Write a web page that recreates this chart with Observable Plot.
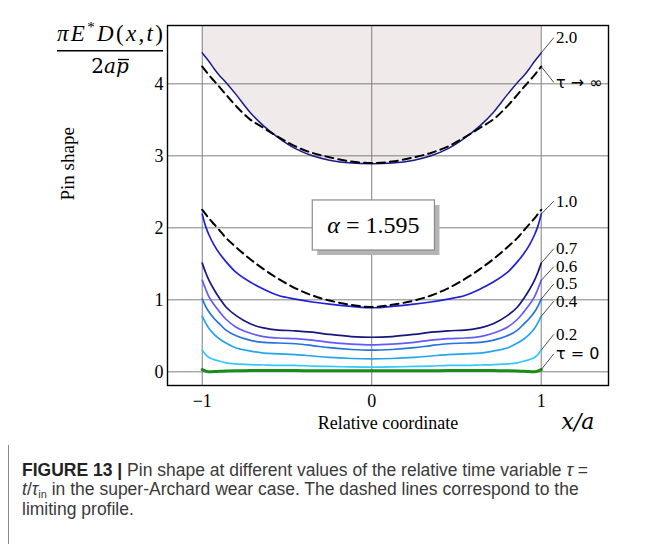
<!DOCTYPE html>
<html><head><meta charset="utf-8">
<script src="https://cdn.jsdelivr.net/npm/d3@7"></script>
<script src="https://cdn.jsdelivr.net/npm/@observablehq/plot@0.6"></script>
<style>
html,body{margin:0;padding:0;background:#fff;}
body{width:651px;height:544px;overflow:hidden;position:relative;}
#border{position:absolute;left:8px;top:8px;right:0;bottom:0;border-left:1px solid #8a8a8a;border-top:1px solid #8a8a8a;}
#chart{position:absolute;left:0;top:0;}
#caption{position:absolute;left:22px;top:461px;font-family:"Liberation Sans",Arial,sans-serif;font-size:17.5px;line-height:18.5px;color:#3a3a3a;white-space:nowrap;}
#caption b{color:#222;}
#caption .sub{font-size:11px;position:relative;top:3px;}
</style></head><body>
<div id="border"></div>
<div id="chart"></div>
<div id="caption"><b>FIGURE 13 |</b> Pin shape at different values of the relative time variable <i>τ</i> =<br><i>t</i>/<i>τ</i><span class="sub">in</span> in the super-Archard wear case. The dashed lines correspond to the<br>limiting profile.</div>
<script>
// ---- data ----
const xs = [-1,-0.98,-0.96,-0.93,-0.9,-0.86,-0.8,-0.72,-0.64,-0.55,-0.45,-0.35,-0.25,-0.12,0,0.12,0.25,0.35,0.45,0.55,0.64,0.72,0.8,0.86,0.9,0.93,0.96,0.98,1];
const tau20 = [4.43,4.37,4.31,4.21,4.12,4.02,3.85,3.61,3.42,3.25,3.10,3.00,2.94,2.90,2.89,2.90,2.94,3.00,3.10,3.25,3.42,3.61,3.85,4.02,4.12,4.21,4.31,4.37,4.43];
const limitUpper = [4.24,4.18,4.12,4.04,3.96,3.85,3.69,3.51,3.39,3.26,3.13,3.04,2.98,2.92,2.90,2.92,2.98,3.04,3.13,3.26,3.39,3.51,3.69,3.85,3.96,4.04,4.12,4.18,4.24];
const limitLower = [2.25,2.19,2.13,2.05,1.97,1.86,1.73,1.57,1.43,1.29,1.16,1.06,0.99,0.93,0.90,0.93,0.99,1.06,1.16,1.29,1.43,1.57,1.73,1.86,1.97,2.05,2.13,2.19,2.25];
const tau10 = [2.19,2.02,1.90,1.76,1.65,1.53,1.38,1.25,1.15,1.06,1.01,0.97,0.94,0.91,0.89,0.91,0.94,0.97,1.01,1.06,1.15,1.25,1.38,1.53,1.65,1.76,1.90,2.02,2.19];
const tau07 = [1.51,1.38,1.27,1.14,1.03,0.90,0.78,0.67,0.61,0.58,0.57,0.55,0.52,0.49,0.48,0.49,0.52,0.55,0.57,0.58,0.61,0.67,0.78,0.90,1.03,1.14,1.27,1.38,1.51];
const tau06 = [1.27,1.15,1.04,0.93,0.84,0.73,0.62,0.54,0.49,0.47,0.46,0.44,0.41,0.385,0.375,0.385,0.41,0.44,0.46,0.47,0.49,0.54,0.62,0.73,0.84,0.93,1.04,1.15,1.27];
const tau05 = [1.01,0.91,0.83,0.74,0.67,0.58,0.50,0.44,0.41,0.40,0.39,0.365,0.335,0.31,0.30,0.31,0.335,0.365,0.39,0.40,0.41,0.44,0.50,0.58,0.67,0.74,0.83,0.91,1.01];
const tau04 = [0.77,0.68,0.60,0.52,0.46,0.40,0.33,0.29,0.26,0.25,0.24,0.22,0.20,0.185,0.18,0.185,0.20,0.22,0.24,0.25,0.26,0.29,0.33,0.40,0.46,0.52,0.60,0.68,0.77];
const tau02 = [0.30,0.24,0.20,0.17,0.15,0.125,0.11,0.10,0.095,0.09,0.09,0.08,0.075,0.068,0.065,0.068,0.075,0.08,0.09,0.09,0.095,0.10,0.11,0.125,0.15,0.17,0.20,0.24,0.30];
const tau00 = [0.03,0.01,0.0,0.003,0.008,0.012,0.015,0.017,0.018,0.018,0.017,0.016,0.015,0.015,0.015,0.015,0.015,0.016,0.017,0.018,0.018,0.017,0.015,0.012,0.008,0.003,0.0,0.01,0.03];

const xTicks = [-1, 0, 1];
const xTickLabels = ["−1", "0", "1"];
const yTicks = [0, 1, 2, 3, 4];
const yTickLabels = ["0", "1", "2", "3", "4"];

const labelNames = ["2.0", "τ → ∞", "1.0", "0.7", "0.6", "0.5", "0.4", "0.2", "τ = 0"];
const labelFrom  = [4.43, 4.24, 2.19, 1.51, 1.27, 1.01, 0.77, 0.30, 0.03];
const labelTo    = [4.64, 4.02, 2.37, 1.71, 1.46, 1.22, 0.98, 0.52, 0.25];

const alphaText = "1.595";
const alphaBox = {x1: -0.348, x2: 0.373, y1: 1.685, y2: 2.38};

// ---- layout / styling ----
const X_DOMAIN = [-1.205, 1.397];
const Y_DOMAIN = [-0.19, 4.81];
const serif = "'Liberation Serif','Times New Roman',serif";
const mathSerif = "'DejaVu Serif',serif";

const solid = [
  {ys: tau10, stroke: "#2020d8", w: 1.7},
  {ys: tau07, stroke: "#16167e", w: 1.7},
  {ys: tau06, stroke: "#6458ff", w: 1.7},
  {ys: tau05, stroke: "#2274dc", w: 1.7},
  {ys: tau04, stroke: "#22a4ee", w: 1.7},
  {ys: tau02, stroke: "#33c8ff", w: 1.7},
  {ys: tau00, stroke: "#1a8c1a", w: 3},
  {ys: tau20, stroke: "#1a1a8c", w: 1.5}
];
const dashed = [limitUpper, limitLower];

const pts = ys => xs.map((x, i) => ({x, y: ys[i]}));
const labels = labelNames.map((t, i) => ({t, y1: labelFrom[i], y2: labelTo[i], greek: t.startsWith("τ")}));

const plot = Plot.plot({
  width: 651, height: 445,
  marginLeft: 167, marginRight: 43, marginTop: 25, marginBottom: 60,
  x: {domain: X_DOMAIN, label: null, axis: null},
  y: {domain: Y_DOMAIN, label: null, axis: null},
  style: {fontFamily: serif, fontSize: "17px", color: "black", background: "white", overflow: "visible"},
  marks: [
    Plot.areaY(xs.map((x, i) => ({x, y1: tau20[i], y2: Y_DOMAIN[1]})), {x: "x", y1: "y1", y2: "y2", fill: "#f0eaea", curve: "catmull-rom"}),
    Plot.ruleX(xTicks, {stroke: "#808080", strokeWidth: 1}),
    Plot.ruleY(yTicks, {stroke: "#808080", strokeWidth: 1}),
    Plot.text(xTicks, {x: d => d, text: (d, i) => xTickLabels[i], frameAnchor: "bottom", lineAnchor: "top", dy: 9, fontSize: 18, fontFamily: serif, fill: "black"}),
    Plot.text(yTicks, {y: d => d, text: (d, i) => yTickLabels[i], frameAnchor: "left", textAnchor: "end", dx: -4, fontSize: 18, fontFamily: serif, fill: "black"}),
    ...solid.map(s => Plot.line(pts(s.ys), {x: "x", y: "y", stroke: s.stroke, strokeWidth: s.w, curve: "catmull-rom"})),
    ...dashed.map(ys => Plot.line(pts(ys), {x: "x", y: "y", stroke: "black", strokeWidth: 2, strokeDasharray: "8,5", curve: "catmull-rom"})),
    Plot.frame({stroke: "black", strokeWidth: 1.4}),
    Plot.link(labels, {x1: () => 1, x2: () => 1.074, y1: "y1", y2: "y2", stroke: "#222", strokeWidth: 0.8}),
    Plot.text(labels.filter(d => !d.greek), {x: () => 1.087, y: "y2", text: "t", textAnchor: "start", fontSize: 17, fontFamily: serif, fill: "black"}),
    Plot.text(labels.filter(d => d.greek), {x: () => 1.087, y: "y2", text: "t", textAnchor: "start", fontSize: 16, fontFamily: "'DejaVu Sans',sans-serif", fill: "black"}),
    Plot.rect([alphaBox], {x1: "x1", x2: "x2", y1: "y1", y2: "y2", fill: "#b4b4b4", dx: 5, dy: 5}),
    Plot.rect([alphaBox], {x1: "x1", x2: "x2", y1: "y1", y2: "y2", fill: "white", stroke: "#8a8a8a", strokeWidth: 1.2}),
    Plot.text(["Relative coordinate"], {frameAnchor: "bottom", lineAnchor: "bottom", dy: 43, text: d => d, fontSize: 18, fontFamily: serif, fill: "black"}),
    Plot.text(["Pin shape"], {frameAnchor: "left", rotate: -90, dx: -100, dy: -5, text: d => d, fontSize: 19, fontFamily: serif, fill: "black"})
  ]
});
document.getElementById("chart").appendChild(plot);

// rich math annotations
const svg = d3.select(plot);
const sx = plot.scale("x"), sy = plot.scale("y");
const a = svg.append("text")
  .attr("x", sx.apply((alphaBox.x1 + alphaBox.x2) / 2)).attr("y", sy.apply((alphaBox.y1 + alphaBox.y2) / 2) + 8)
  .attr("text-anchor", "middle").attr("font-family", serif).attr("font-size", 24);
a.append("tspan").attr("font-style", "italic").text("α");
a.append("tspan").text(" = " + alphaText);

const num = svg.append("text").attr("x", 110).attr("y", 41).attr("text-anchor", "middle")
  .attr("font-family", serif).attr("font-size", 23).attr("textLength", 106).attr("lengthAdjust", "spacing");
num.append("tspan").attr("font-style", "italic").text("πE");
num.append("tspan").attr("font-size", 15).attr("dy", -9).text("*");
num.append("tspan").attr("font-style", "italic").attr("dy", 9).text("D");
num.append("tspan").text("(");
num.append("tspan").attr("font-style", "italic").text("x");
num.append("tspan").text(",");
num.append("tspan").attr("font-style", "italic").text("t");
num.append("tspan").text(")");
svg.append("line").attr("x1", 57).attr("x2", 163).attr("y1", 50.7).attr("y2", 50.7).attr("stroke", "black").attr("stroke-width", 1.6);
const den = svg.append("text").attr("x", 110).attr("y", 72.5).attr("text-anchor", "middle")
  .attr("font-family", mathSerif).attr("font-size", 20);
den.append("tspan").text("2");
den.append("tspan").attr("font-style", "italic").text("ap");
svg.append("line").attr("x1", 118).attr("x2", 129).attr("y1", 59.5).attr("y2", 59.5).attr("stroke", "black").attr("stroke-width", 1.3);

svg.append("text").attr("x", 578).attr("y", 429).attr("text-anchor", "middle")
  .attr("font-family", mathSerif).attr("font-style", "italic").attr("font-size", 22).text("x/a");
</script>
</body></html>
